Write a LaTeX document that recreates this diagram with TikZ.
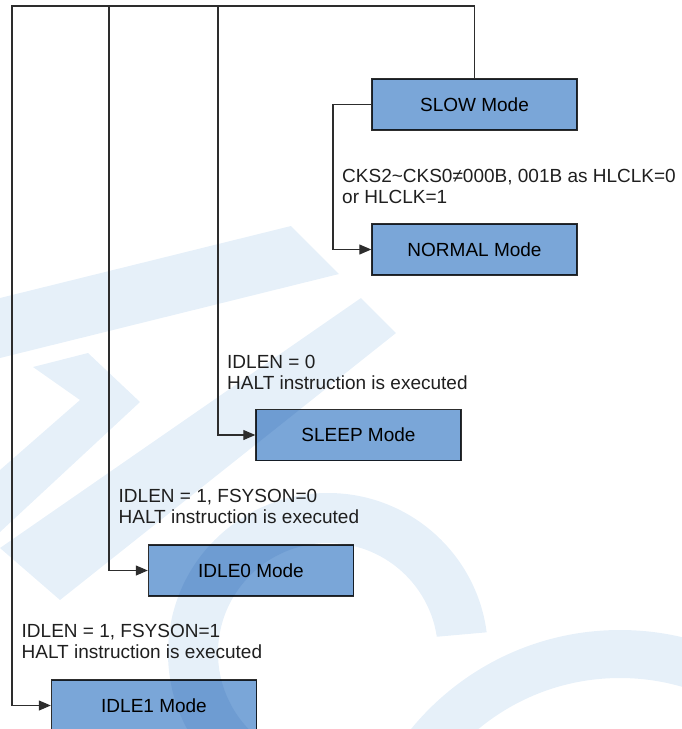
\documentclass[tikz,border=0pt]{standalone}
\usepackage{fontspec}
\setmainfont{Liberation Sans}
\usetikzlibrary{arrows.meta}
\definecolor{modeblue}{RGB}{122,166,216}
\definecolor{wmblue}{RGB}{230,240,249}
\definecolor{linegray}{RGB}{45,45,45}

\begin{document}
\begin{tikzpicture}[x=1pt,y=-1pt,
    modebox/.style={draw=linegray,line width=1.4pt,fill=modeblue,minimum width=205pt,minimum height=51pt,inner sep=0pt,font=\fontsize{19}{21}\selectfont},
    cond/.style={anchor=base west,align=left,inner sep=0pt,text=black!88,font=\fontsize{19}{21}\selectfont},
    link/.style={draw=linegray,line width=1.2pt,-{Triangle[length=12pt,width=10pt]}}]
                \useasboundingbox (0,0) rectangle (682,729);
                % watermark
                \scope
                    \fill[wmblue] (0,298) -- (291,226) -- (339,274) -- (0,358) -- cycle;
                    \fill[wmblue] (361,298) -- (396,333) -- (60,600) -- (0,548) -- cycle;
                    \fill[wmblue] (33,367) -- (88,353) -- (140,402) -- (0,532) -- (0,470) -- (80,400) -- cycle;
                    \fill[wmblue, even odd rule] (620,900) circle (270) (620,900) circle (222);
                    \clip (0,0) -- (682,0) -- (682,615) -- (400,640) -- (400,729) -- (0,729) -- cycle;
                    \fill[wmblue, even odd rule] (328,653) circle (160) (328,653) circle (110);
                \endscope
                \scope[blend mode=multiply]
                    \node[modebox] (slow) at (474.5,104.5) {SLOW Mode};
                    \node[modebox] (normal) at (474.5,249.5) {NORMAL Mode};
                    \node[modebox] (sleep) at (358.5,435) {SLEEP Mode};
                    \node[modebox] (idle0) at (251,570.5) {IDLE0 Mode};
                    \node[modebox] (idle1) at (154,705.5) {IDLE1 Mode};
                \endscope
                \coordinate (rail) at (12,6);
                \coordinate (tapidle) at (109,6);
                \coordinate (tapsleep) at (218,6);
                \coordinate (bend) at (333,104.5);
                \draw[link] (slow.north) |- (rail) |- (idle1.west);
                \draw[link] (tapidle) |- (idle0.west);
                \draw[link] (tapsleep) |- (sleep.west);
                \draw[link] (slow.west) -- (bend) |- (normal.west);
                % base anchor sits on the last line
                \node[cond] (cks) at (342,203) {CKS2\textasciitilde CKS0≠000B, 001B as HLCLK=0\\or HLCLK=1};
                \node[cond] (halt0) at (227,389) {IDLEN = 0\\HALT instruction is executed};
                \node[cond] (haltidle0) at (118.5,523) {IDLEN = 1, FSYSON=0\\HALT instruction is executed};
                \node[cond] (haltidle1) at (21.5,658) {IDLEN = 1, FSYSON=1\\HALT instruction is executed};
            \end{tikzpicture}
\end{document}
